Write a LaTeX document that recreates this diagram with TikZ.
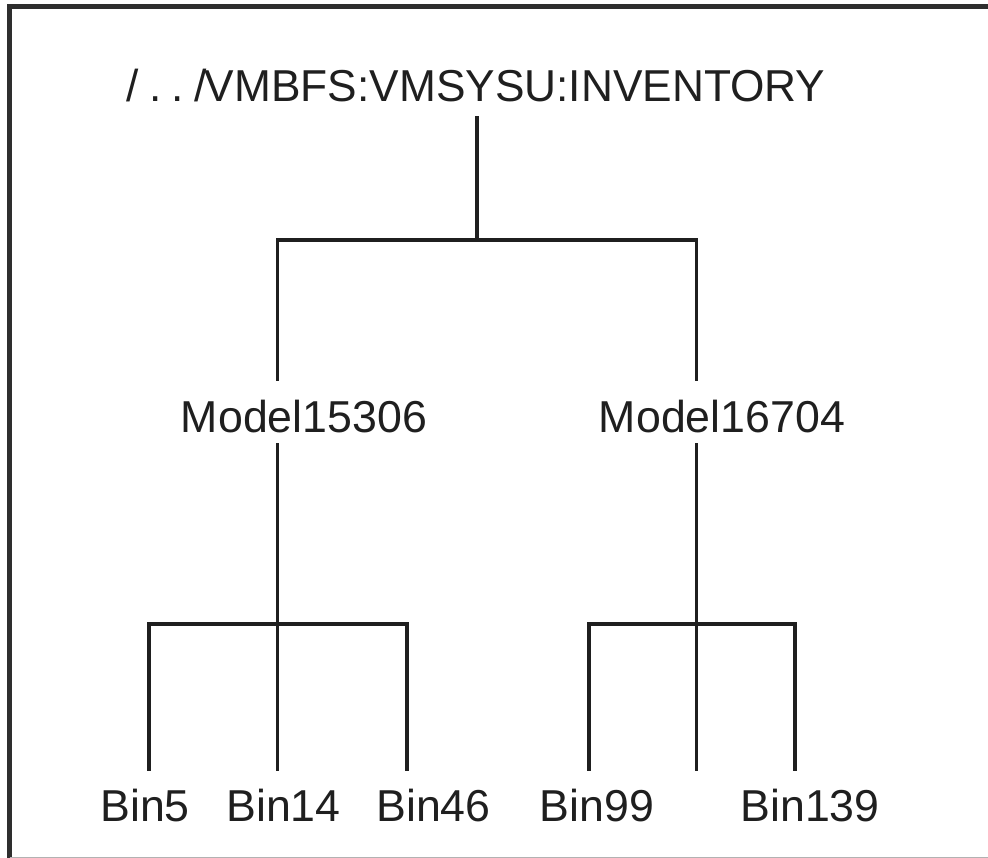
\documentclass[tikz,border=0pt]{standalone}
\usepackage{fontspec}
\setmainfont{Liberation Sans}
\begin{document}
\begin{tikzpicture}[x=1pt,y=-1pt,
  lbl/.style={inner sep=0pt, anchor=base, text=black!88, font=\fontsize{44.7}{50}\selectfont},
  conn/.style={line width=3.2pt, draw=black!88, line join=miter, line cap=rect},
  frame/.style={line width=4.5pt, draw=black!82}]
\useasboundingbox (0,0) rectangle (988,858);
% frame
\draw[frame] (9.5,860) -- (9.5,6.5) -- (990,6.5);
\draw[line width=1pt, draw=black!30] (9.5,857) -- (988,857);
% nodes
\node[lbl] (root) at (476,102) {\scalebox{0.99}[1]{/\kern11pt.\kern10pt.\kern10pt/\kern-1.5pt VMBFS:VMSYSU:INVENTORY}};
\node[lbl] (m1) at (304,432) {Model15306};
\node[lbl] (m2) at (722,432) {Model16704};
\node[lbl] (b5) at (145,821) {Bin5};
\node[lbl] (b14) at (283.5,821) {Bin14};
\node[lbl] (b46) at (433.5,821) {Bin46};
\node[lbl] (b99) at (597,821) {Bin99};
\node[lbl] (b139) at (810,821) {Bin139};
% junction coordinates
\coordinate (r0) at (477,118);
\coordinate (j0) at (477,240);
\coordinate (m1t) at (277.5,379);
\coordinate (m2t) at (696.5,379);
\coordinate (m1b) at (277.5,445);
\coordinate (m2b) at (696.5,445);
\coordinate (j1) at (277.5,624);
\coordinate (j2) at (696.5,624);
\coordinate (b5t) at (149,769);
\coordinate (b14t) at (277.5,769);
\coordinate (b46t) at (407,769);
\coordinate (b99t) at (589,769);
\coordinate (bmt) at (696.5,769);
\coordinate (b139t) at (795,769);
% connectors
\draw[conn] (r0) -- (j0);
\draw[conn] (m1t) |- (j0) -| (m2t);
\draw[conn] (m1b) -- (b14t);
\draw[conn] (b5t) |- (j1) -| (b46t);
\draw[conn] (m2b) -- (bmt);
\draw[conn] (b99t) |- (j2) -| (b139t);
\end{tikzpicture}
\end{document}
